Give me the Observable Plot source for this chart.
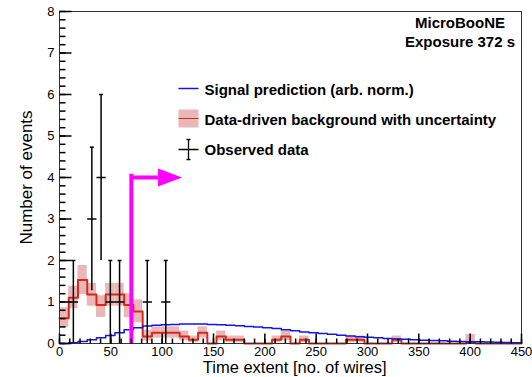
<!DOCTYPE html>
<html><head><meta charset="utf-8">
<script src="https://cdn.jsdelivr.net/npm/d3@7"></script>
<script src="https://cdn.jsdelivr.net/npm/@observablehq/plot@0.6"></script>
<style>body{margin:0;background:#fff} svg{display:block}</style>
</head><body><div id="chart"></div>
<script>
// ---- data (bins of 9 wires, 0..450) ----
const binWidth = 9;
const xDomain = [0, 450];
const yDomain = [0, 8];
const signal = [0,0.02,0.05,0.09,0.14,0.19,0.26,0.33,0.38,0.42,
  0.44,0.45,0.46,0.47,0.47,0.47,0.46,0.45,0.44,0.43,
  0.41,0.40,0.38,0.36,0.33,0.31,0.28,0.26,0.24,0.22,
  0.20,0.18,0.16,0.15,0.14,0.12,0.11,0.10,0.09,0.08,
  0.07,0.065,0.055,0.05,0.045,0.04,0.035,0.03,0.025,0.02];
const background = [0.61,1.10,1.53,1.18,0.93,1.18,1.18,0.93,0.77,0.17,
  0.26,0.26,0.26,0.17,0.09,0.26,0,0.17,0.09,0.09,
  0,0,0,0.09,0.17,0,0.09,0,0,0,
  0,0.09,0.09,0,0,0,0.09,0,0,0,
  0,0,0,0,0.03,0,0,0,0,0];
const bgLow = [0.38,0.84,1.18,0.90,0.63,0.90,0.90,0.62,0.50,0.06,
  0.13,0.13,0.13,0.07,0.02,0.13,0,0.07,0.02,0.02,
  0,0,0,0.02,0.07,0,0.02,0,0,0,
  0,0.02,0.02,0,0,0,0.02,0,0,0,
  0,0,0,0,0,0,0,0,0,0];
const bgHigh = [0.86,1.38,1.88,1.45,1.15,1.45,1.45,1.20,1.05,0.32,
  0.40,0.40,0.40,0.30,0.18,0.40,0,0.30,0.18,0.18,
  0,0,0,0.18,0.30,0,0.18,0,0,0,
  0,0.18,0.18,0,0,0,0.18,0,0,0,
  0,0,0,0,0.22,0,0,0,0,0];
const dataCenters = [13.5, 31.5, 40.5, 49.5, 58.5, 85.5, 103.5];
const dataCounts = [1, 3, 4, 1, 1, 1, 1];
const dataErrors = [1, 1.73, 2, 1, 1, 1, 1];
const xTicks = [0, 50, 100, 150, 200, 250, 300, 350, 400, 450];
const yTicks = [0, 1, 2, 3, 4, 5, 6, 7, 8];
const xMinorStep = 10, yMinorStep = 0.2;
const cutValue = 70, arrowLevel = 4, arrowHeadAt = 96;
const experimentLabels = ["MicroBooNE", "Exposure 372 s"];
const legendLabels = ["Signal prediction (arb. norm.)", "Data-driven background with uncertainty", "Observed data"];
const xTitle = "Time extent [no. of wires]";
const yTitle = "Number of events";

// ---- derived tables ----
const bins = background.map((v, i) => ({x1: i * binWidth, x2: (i + 1) * binWidth, bg: v, lo: bgLow[i], hi: bgHigh[i], sig: signal[i]}));
const steps = key => [...bins.map(b => ({x: b.x1, y: b[key]})), {x: xDomain[1], y: bins[bins.length - 1][key]}];
const obs = dataCenters.map((c, i) => ({x: c, x1: c - binWidth / 2, x2: c + binWidth / 2, y: dataCounts[i], y1: dataCounts[i] - dataErrors[i], y2: dataCounts[i] + dataErrors[i]}));
const xMinor = d3.range(xDomain[0], xDomain[1] + 0.01, xMinorStep);
const yMinor = d3.range(yDomain[0], yDomain[1] + 0.01, yMinorStep);

const RED = "#d8281c", BLUE = "#1414e6", PINK = "#e9b7b7", MAG = "#ff00ff";
const seg = (ax, ay, bx, by) => ({draw(ctx) { ctx.moveTo(ax, ay); ctx.lineTo(bx, by); }});
const capSym = {draw(ctx) { ctx.moveTo(-2, 0); ctx.lineTo(2, 0); }};
const headSym = {draw(ctx) { ctx.moveTo(0, -9); ctx.lineTo(24, 0); ctx.lineTo(0, 9); ctx.closePath(); }};
const boxSym = {draw(ctx) { ctx.rect(0, -9, 20, 18); }};
const crossSym = {draw(ctx) {
  ctx.moveTo(-10, 0); ctx.lineTo(10, 0);
  ctx.moveTo(0, -10); ctx.lineTo(0, 10);
  ctx.moveTo(-2, -10); ctx.lineTo(2, -10);
  ctx.moveTo(-2, 10); ctx.lineTo(2, 10);
}};
const FONT = "Liberation Sans, Arial, Helvetica, sans-serif";
const legendY = [79, 109, 139];

const chart = Plot.plot({
  width: 532, height: 377,
  marginLeft: 59, marginRight: 11, marginTop: 11, marginBottom: 34,
  style: {fontFamily: FONT, background: "#fff", color: "#000"},
  x: {domain: xDomain},
  y: {domain: yDomain},
  marks: [
    Plot.rect(bins.filter(b => b.hi > b.lo), {x1: "x1", x2: "x2", y1: "lo", y2: "hi", fill: PINK}),
    Plot.line(steps("bg"), {x: "x", y: "y", curve: "step-after", stroke: RED, strokeWidth: 2}),
    Plot.line(steps("sig"), {x: "x", y: "y", curve: "step-after", stroke: BLUE, strokeWidth: 1.5}),
    Plot.ruleX(obs, {x: "x", y1: "y1", y2: "y2", stroke: "#000", strokeWidth: 1.5}),
    Plot.link(obs, {x1: "x1", x2: "x2", y1: "y", y2: "y", stroke: "#000", strokeWidth: 1.5}),
    Plot.dot(obs, {x: "x", y: "y2", symbol: capSym, fill: "none", stroke: "#000", strokeWidth: 1.5}),
    // magenta cut arrow
    Plot.ruleX([cutValue], {y1: 0, y2: arrowLevel + 0.08, stroke: MAG, strokeWidth: 4}),
    Plot.link([0], {x1: () => cutValue, x2: () => arrowHeadAt, y1: () => arrowLevel, y2: () => arrowLevel, stroke: MAG, strokeWidth: 4}),
    Plot.dot([0], {x: () => arrowHeadAt, y: () => arrowLevel, symbol: headSym, fill: MAG, stroke: "none"}),
    // frame & ticks (inside, ROOT style)
    Plot.frame({stroke: "#333", strokeWidth: 1}),
    Plot.dot(yTicks, {x: () => xDomain[0], y: d => d, symbol: seg(0, 0, 12, 0), fill: "none", stroke: "#000"}),
    Plot.dot(yMinor, {x: () => xDomain[0], y: d => d, symbol: seg(0, 0, 6, 0), fill: "none", stroke: "#000"}),
    Plot.dot(xTicks, {x: d => d, y: () => yDomain[0], symbol: seg(0, 0, 0, -10), fill: "none", stroke: "#000"}),
    Plot.dot(xMinor, {x: d => d, y: () => yDomain[0], symbol: seg(0, 0, 0, -5), fill: "none", stroke: "#000"}),
    Plot.axisX(xTicks, {tickSize: 0, tickPadding: 3, fontSize: 13, label: null}),
    Plot.axisY(yTicks, {tickSize: 0, tickPadding: 5, fontSize: 13, label: null}),
    Plot.text([xTitle], {frameAnchor: "bottom-left", dx: 327, dy: 24, textAnchor: "end", lineAnchor: "middle", fontSize: 16.5, text: d => d}),
    Plot.text([yTitle], {frameAnchor: "left", dx: -33, rotate: -90, textAnchor: "middle", lineAnchor: "middle", fontSize: 17, text: d => d}),
    // experiment label
    ...experimentLabels.map((t, i) => Plot.text([t], {frameAnchor: "top-left", dx: 400.5, dy: [12, 31][i], textAnchor: "middle", lineAnchor: "middle", fontSize: 15, fontWeight: "bold", text: d => d})),
    // legend
    Plot.dot([0], {frameAnchor: "top-left", dx: 119, dy: legendY[0] - 2, symbol: seg(0, 0, 20, 0), fill: "none", stroke: BLUE, strokeWidth: 1.5}),
    Plot.dot([0], {frameAnchor: "top-left", dx: 119, dy: legendY[1] - 2, symbol: boxSym, fill: PINK, stroke: "none"}),
    Plot.dot([0], {frameAnchor: "top-left", dx: 119, dy: legendY[1] - 2, symbol: seg(0, 0, 20, 0), fill: "none", stroke: RED, strokeWidth: 1}),
    Plot.dot([0], {frameAnchor: "top-left", dx: 129, dy: legendY[2] - 1, symbol: crossSym, fill: "none", stroke: "#000", strokeWidth: 1.3}),
    ...legendLabels.map((t, i) => Plot.text([t], {frameAnchor: "top-left", dx: 145, dy: legendY[i], textAnchor: "start", lineAnchor: "middle", fontSize: 15, fontWeight: "bold", text: d => d}))
  ]
});
document.getElementById("chart").appendChild(chart);
</script>
</body></html>
